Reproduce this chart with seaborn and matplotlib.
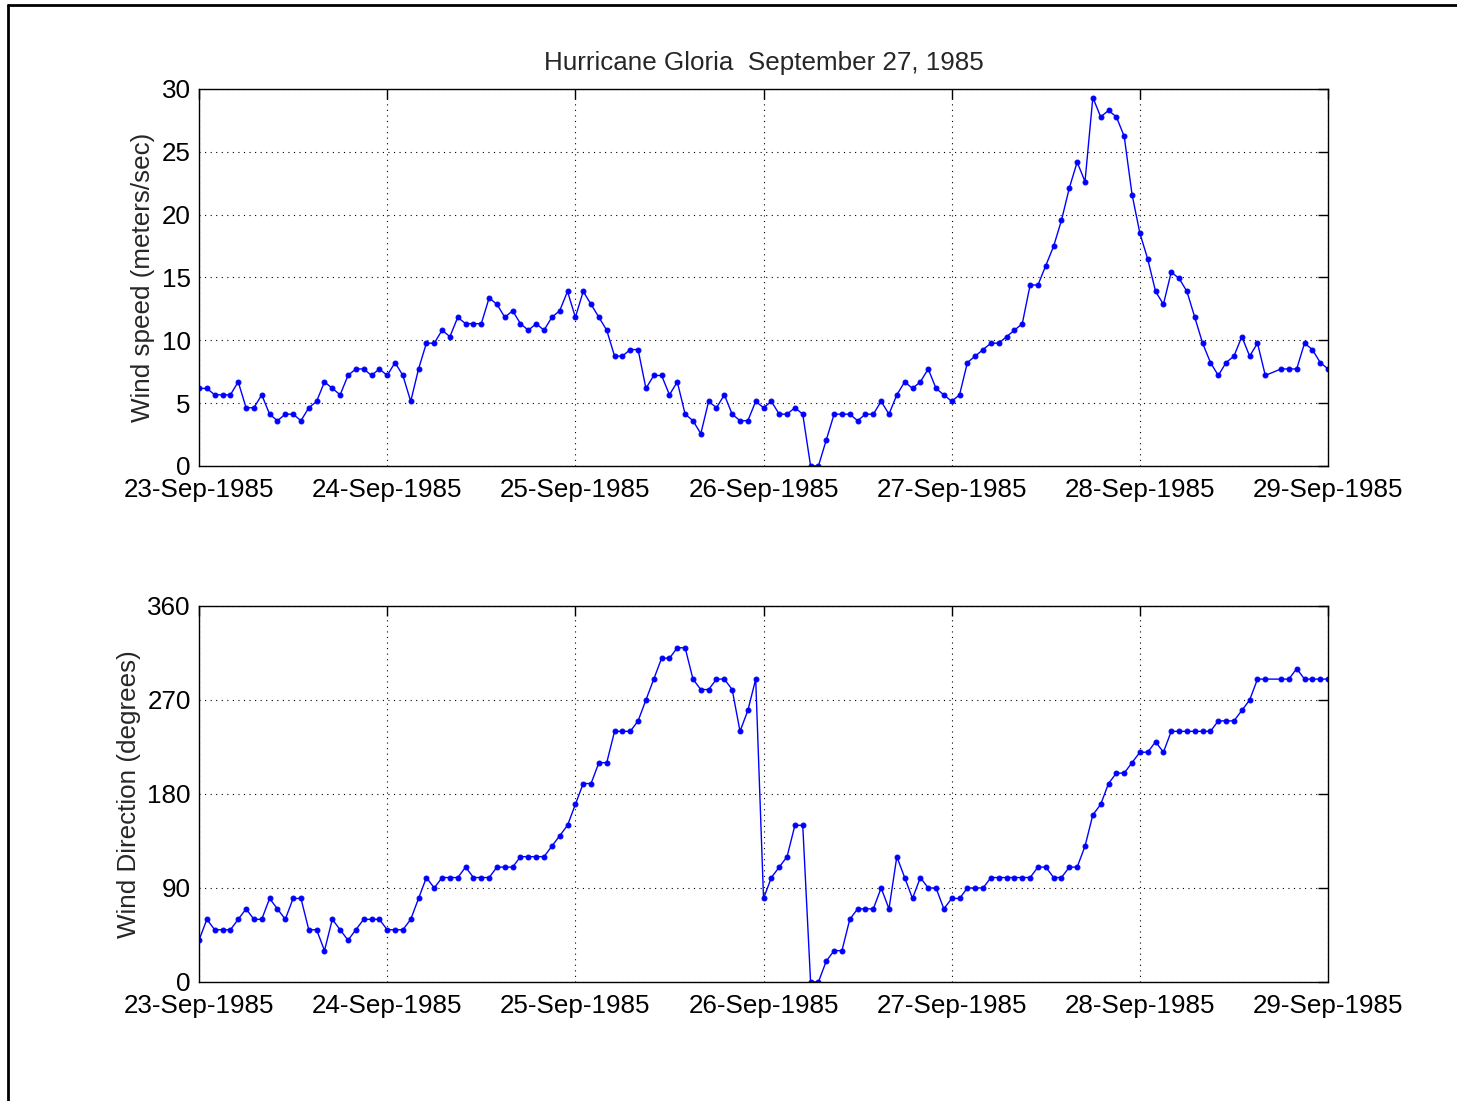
import matplotlib
matplotlib.use("Agg")
import matplotlib.pyplot as plt
import matplotlib.dates as mdates
from matplotlib.lines import Line2D
import seaborn as sns
import pandas as pd

# hourly observations, one hour missing on 28-Sep
start = "1985-09-23 00:00"
end = "1985-09-29 00:00"
missing_hour = "1985-09-28 17:00"

speed = [
    6.17, 6.17, 5.66, 5.66, 5.66, 6.69, 4.63, 4.63, 5.66, 4.12, 3.60, 4.12,
    4.12, 3.60, 4.63, 5.14, 6.69, 6.17, 5.66, 7.20, 7.72, 7.72, 7.20, 7.72,
    7.20, 8.23, 7.20, 5.14, 7.72, 9.77, 9.77, 10.80, 10.29, 11.83, 11.32, 11.32,
    11.32, 13.37, 12.86, 11.83, 12.35, 11.32, 10.80, 11.32, 10.80, 11.83, 12.35, 13.89,
    11.83, 13.89, 12.86, 11.83, 10.80, 8.74, 8.74, 9.26, 9.26, 6.17, 7.20, 7.20,
    5.66, 6.69, 4.12, 3.60, 2.57, 5.14, 4.63, 5.66, 4.12, 3.60, 3.60, 5.14,
    4.63, 5.14, 4.12, 4.12, 4.63, 4.12, 0.00, 0.00, 2.06, 4.12, 4.12, 4.12,
    3.60, 4.12, 4.12, 5.14, 4.12, 5.66, 6.69, 6.17, 6.69, 7.72, 6.17, 5.66,
    5.14, 5.66, 8.23, 8.74, 9.26, 9.77, 9.77, 10.29, 10.80, 11.32, 14.40, 14.40,
    15.95, 17.49, 19.55, 22.12, 24.18, 22.63, 29.32, 27.78, 28.29, 27.78, 26.23, 21.60,
    18.52, 16.46, 13.89, 12.86, 15.43, 14.92, 13.89, 11.83, 9.77, 8.23, 7.20, 8.23,
    8.74, 10.29, 8.74, 9.77, 7.20, 7.72, 7.72, 7.72, 9.77, 9.26, 8.23, 7.72,
]

direction = [
    40, 60, 50, 50, 50, 60, 70, 60, 60, 80, 70, 60,
    80, 80, 50, 50, 30, 60, 50, 40, 50, 60, 60, 60,
    50, 50, 50, 60, 80, 100, 90, 100, 100, 100, 110, 100,
    100, 100, 110, 110, 110, 120, 120, 120, 120, 130, 140, 150,
    170, 190, 190, 210, 210, 240, 240, 240, 250, 270, 290, 310,
    310, 320, 320, 290, 280, 280, 290, 290, 280, 240, 260, 290,
    80, 100, 110, 120, 150, 150, 0, 0, 20, 30, 30, 60,
    70, 70, 70, 90, 70, 120, 100, 80, 100, 90, 90, 70,
    80, 80, 90, 90, 90, 100, 100, 100, 100, 100, 100, 110,
    110, 100, 100, 110, 110, 130, 160, 170, 190, 200, 200, 210,
    220, 220, 230, 220, 240, 240, 240, 240, 240, 240, 250, 250,
    250, 260, 270, 290, 290, 290, 290, 300, 290, 290, 290, 290,
]

speed_ticks = [0, 5, 10, 15, 20, 25, 30]
dir_ticks = [0, 90, 180, 270, 360]

times = pd.date_range(start, end, freq="h")
times = times[times != pd.Timestamp(missing_hour)]
df = pd.DataFrame({"time": times, "speed": speed, "direction": direction})

sns.set_style("white")
plt.rcParams["font.family"] = ["Liberation Sans", "DejaVu Sans"]
plt.rcParams["font.size"] = 18.7

fig = plt.figure(figsize=(14.57, 11.01), dpi=100)
ax1 = fig.add_axes([0.1366, 0.5768, 0.7749, 0.3424])
ax2 = fig.add_axes([0.1366, 0.1081, 0.7749, 0.3415])

line_kw = dict(color="#0000ff", marker=".", markersize=7, markeredgecolor="#0000ff",
               linewidth=1.0)
sns.lineplot(data=df, x="time", y="speed", ax=ax1, **line_kw)
sns.lineplot(data=df, x="time", y="direction", ax=ax2, **line_kw)

for ax, ticks, label in [(ax1, speed_ticks, "Wind speed (meters/sec)"),
                         (ax2, dir_ticks, "Wind Direction (degrees)")]:
    ax.set_xlim(pd.Timestamp(start), pd.Timestamp(end))
    ax.set_ylim(ticks[0], ticks[-1])
    ax.set_yticks(ticks)
    ax.xaxis.set_major_locator(mdates.DayLocator())
    ax.xaxis.set_major_formatter(mdates.DateFormatter("%d-%b-%Y"))
    ax.grid(True, color="black", linestyle=(0, (1, 4)), linewidth=0.8)
    ax.tick_params(direction="in", length=7, width=1, top=True, right=True,
                   labelsize=18.7, colors="black")
    ax.tick_params(axis="x", pad=9)
    ax.tick_params(axis="y", pad=6)
    for s in ax.spines.values():
        s.set_color("black")
        s.set_linewidth(1)
    ax.set_xlabel("")
    ax.set_ylabel(label, fontsize=18.7)

ax1.set_title("Hurricane Gloria  September 27, 1985", fontsize=18.7, pad=14)
ax1.yaxis.set_label_coords(-0.039, 0.5)
ax2.yaxis.set_label_coords(-0.051, 0.5)

# outer frame of the screenshot
fig.add_artist(Line2D([8 / 1457, 8 / 1457], [0, 1 - 5 / 1101], transform=fig.transFigure,
                      color="black", linewidth=2))
fig.add_artist(Line2D([8 / 1457, 1], [1 - 5 / 1101, 1 - 5 / 1101], transform=fig.transFigure,
                      color="black", linewidth=2))

fig.savefig("out.png", dpi=100)
